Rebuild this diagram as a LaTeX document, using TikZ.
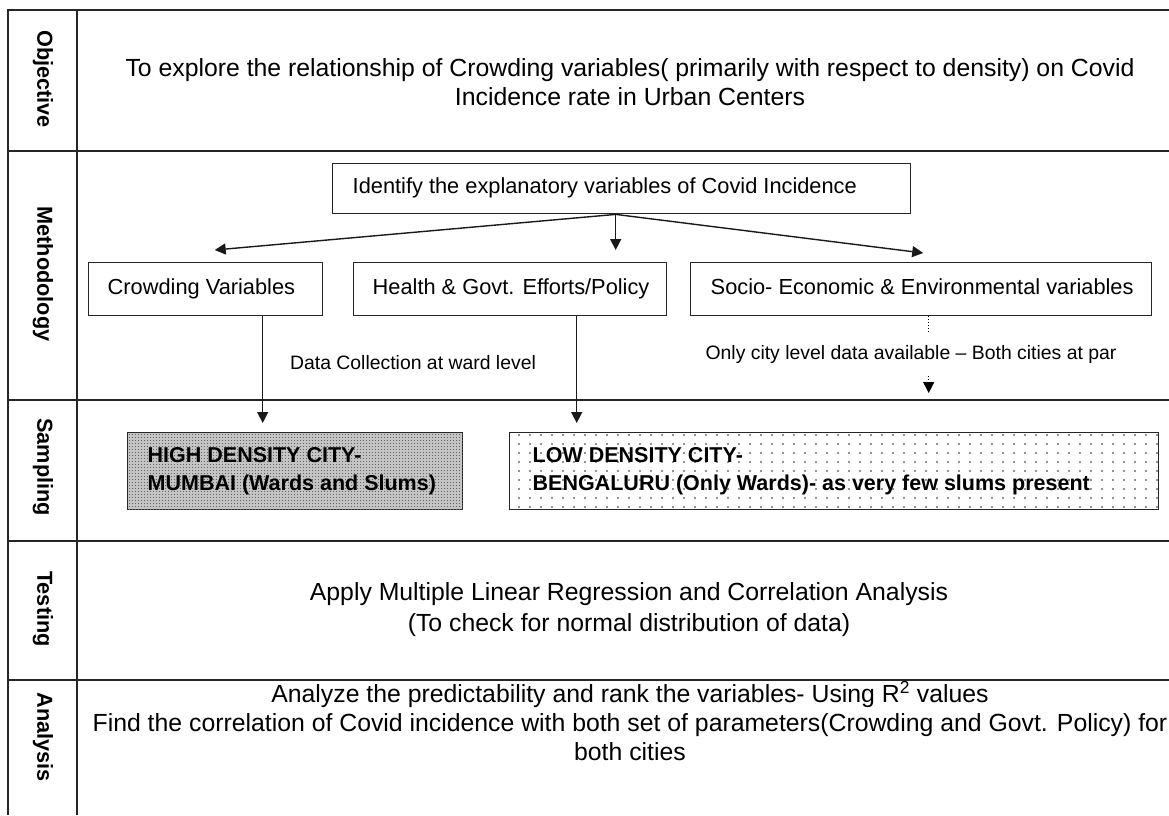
\documentclass[tikz,border=0pt]{standalone}
\usepackage{fontspec}
\setmainfont{Liberation Sans}
\usetikzlibrary{arrows.meta,patterns.meta}
\pgfdeclarepattern{name=sparsedots, type=uncolored,
  bottom left={\pgfpoint{-1pt}{-1pt}}, top right={\pgfpoint{10pt}{8pt}},
  tile size={\pgfpoint{11pt}{9pt}},
  code={\pgfpathcircle{\pgfpoint{2pt}{2pt}}{0.9pt}\pgfusepath{fill}}}
\pgfdeclarepattern{name=densedots, type=uncolored,
  bottom left={\pgfpoint{-1pt}{-1pt}}, top right={\pgfpoint{2pt}{2pt}},
  tile size={\pgfpoint{3pt}{3pt}},
  code={\pgfpathcircle{\pgfpoint{1pt}{1pt}}{0.75pt}\pgfusepath{fill}}}
\begin{document}
\begin{tikzpicture}[x=1pt,y=-1pt,
  tbl/.style={line width=2pt, draw=black!85},
  box/.style={draw=black!85, line width=1.4pt, anchor=north west, inner ysep=0pt,
    font=\fontsize{21.8}{26}\selectfont},
  sbox/.style={draw=black!85, line width=1.4pt, anchor=north west, inner ysep=0pt,
    align=left, minimum height=77pt, font=\fontsize{21.5}{28}\selectfont\bfseries},
  arr/.style={line width=1.4pt, draw=black!90, -{Triangle[width=11pt,length=11pt]}},
  lab/.style={rotate=-90, font=\fontsize{21.7}{24}\selectfont\bfseries},
  bigtxt/.style={align=center, font=\fontsize{24.8}{29}\selectfont},
  small/.style={font=\fontsize{19.4}{22}\selectfont}]
\useasboundingbox (0,0) rectangle (1169,815);
% table grid
\draw[tbl] (1169,10) -- (8,10) -- (8,815);
\draw[tbl] (77,10) -- (77,815);
\foreach \yy in {151,400,680} \draw[tbl] (8,\yy) -- (1169,\yy);
\draw[tbl, line width=2.6pt] (8,541) -- (1169,541);
% row labels
\node[lab] (lobj) at (43,79) {Objective};
\node[lab] (lmet) at (43,274) {Methodology};
\node[lab] (lsam) at (43,467) {Sampling};
\node[lab] (ltes) at (43,609) {Testing};
\node[lab] (lana) at (43,737) {Analysis};
% objective
\node[bigtxt] (obj) at (630,82) {To explore the relationship of Crowding variables( primarily with respect to density) on Covid\\Incidence rate in Urban Centers};
% methodology
\node[box, inner xsep=20pt, minimum height=50pt] (ident) at (332,163)
  {\makebox[538pt][l]{\strut Identify the explanatory variables of Covid Incidence}};
\node[box, inner xsep=19pt, minimum height=53pt] (crowd) at (88,262)
  {\makebox[196pt][l]{\strut Crowding Variables}};
\node[box, inner xsep=19pt, minimum height=53pt] (health) at (353,262)
  {\makebox[275pt][l]{\strut Health \& Govt. Efforts/Policy}};
\node[box, inner xsep=20pt, minimum height=53pt] (socio) at (690,262)
  {\makebox[421pt][l]{\strut Socio- Economic \& Environmental variables}};
\coordinate (o) at ([xshift=-6pt]ident.south);
\draw[arr] (o) -- ([xshift=9pt,yshift=12pt]crowd.north);
\draw[arr, shorten >=12pt] (o) -- (o |- health.north);
\draw[arr] (o) -- ([xshift=2pt,yshift=9pt]socio.north);
% sampling
\node[sbox, inner xsep=20pt, fill=gray!45, postaction={pattern=densedots, pattern color=gray!80!black}] (high) at (127,432)
  {\makebox[295pt][l]{HIGH DENSITY CITY-}\\\makebox[295pt][l]{MUMBAI (Wards and Slums)}};
\node[sbox, inner xsep=23pt, pattern=sparsedots, pattern color=black!85] (low) at (509,432)
  {\makebox[603pt][l]{LOW DENSITY CITY-}\\\makebox[603pt][l]{BENGALURU (Only Wards)- as very few slums present}};
\coordinate (c1) at ([xshift=57pt]crowd.south);
\draw[arr, shorten >=9pt] (c1) -- (c1 |- high.north);
\coordinate (c2) at ([xshift=66.5pt]health.south);
\draw[arr, shorten >=9pt] (c2) -- (c2 |- low.north);
\node[small] (dcol) at (413,363) {Data Collection at ward level};
\coordinate (d1) at ([xshift=7.5pt]socio.south);
\coordinate (d2) at (d1 |- 0,333);
\draw[dotted, line width=1pt] (d1) -- (d2);
\node[small] (city) at (911,354) {Only city level data available -- Both cities at par};
\coordinate (d3) at (d1 |- 0,376);
\coordinate (d4) at (d1 |- 0,393);
\draw[dotted, line width=1pt, -{Triangle[width=11pt,length=11pt]}] (d3) -- (d4);
% testing
\node[bigtxt, font=\fontsize{24.8}{31}\selectfont] (test) at (629,610) {Apply Multiple Linear Regression and Correlation Analysis\\(To check for normal distribution of data)};
% analysis
\node[bigtxt] (ana) at (630,721) {Analyze the predictability and rank the variables- Using R\textsuperscript{2} values\\Find the correlation of Covid incidence with both set of parameters(Crowding and Govt. Policy) for\\both cities};
\end{tikzpicture}
\end{document}
